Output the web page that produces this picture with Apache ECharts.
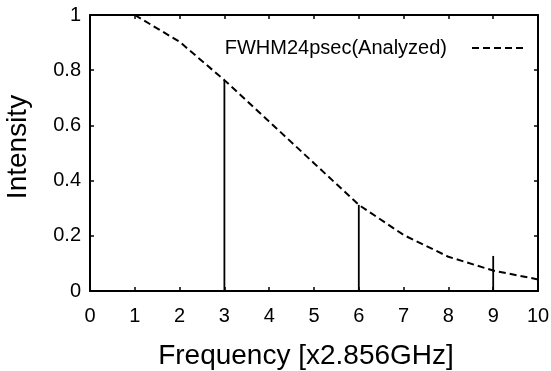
<!DOCTYPE html>
<html>
<head>
<meta charset="utf-8">
<script src="https://cdn.jsdelivr.net/npm/echarts@6/dist/echarts.min.js"></script>
<style>
html,body{margin:0;padding:0;background:#fff;}
#c{width:551px;height:371px;}
</style>
</head>
<body>
<div id="c"></div>
<script>
var seriesName = 'FWHM24psec(Analyzed)';
var freq = [1, 2, 3, 4, 5, 6, 7, 8, 9, 10];
var intensity = [1.0, 0.903, 0.764, 0.614, 0.463, 0.312, 0.203, 0.124, 0.074, 0.042];
var impulseX = [3, 6, 9];
var impulseY = [0.762, 0.312, 0.127];
var xTicks = [0,1,2,3,4,5,6,7,8,9,10];
var yTicks = [0, 0.2, 0.4, 0.6, 0.8, 1];

var FONT = '"Liberation Sans", Arial, Helvetica, sans-serif';
var chart = echarts.init(document.getElementById('c'), null, {renderer: 'canvas'});

var lineData = freq.map(function (f, i) { return [f, intensity[i]]; });
var impData = impulseX.map(function (f, i) { return [f, impulseY[i]]; });

var axisLineStyle = {color: '#000', width: 2};
var tickStyle = {color: '#000', width: 1.5};

chart.setOption({
  animation: false,
  backgroundColor: '#fff',
  textStyle: {fontFamily: FONT, color: '#000'},
  grid: {left: 90, right: 13, top: 15, bottom: 80, containLabel: false, outerBoundsMode: 'none'},
  legend: {
    data: [{name: seriesName}],
    right: 18,
    top: 33,
    align: 'right',
    itemWidth: 55,
    itemHeight: 16,
    itemGap: 0,
    selectedMode: false,
    itemStyle: {opacity: 0},
    textStyle: {fontFamily: FONT, fontSize: 20, color: '#000', padding: [0, 20, 0, 0]}
  },
  xAxis: [{
    type: 'value',
    min: 0, max: 10, interval: 1,
    name: 'Frequency [x2.856GHz]',
    nameLocation: 'middle',
    nameGap: 51,
    nameTextStyle: {fontFamily: FONT, fontSize: 28, color: '#000', padding: [0, 16, 0, 0]},
    axisLine: {show: true, onZero: false, lineStyle: axisLineStyle},
    axisTick: {show: true, inside: true, length: 4, lineStyle: tickStyle},
    axisLabel: {
      fontFamily: FONT, fontSize: 20, color: '#000', margin: 15,
      formatter: function (v) { return xTicks.indexOf(v) >= 0 ? String(v) : ''; }
    },
    splitLine: {show: false}
  }, {
    type: 'value', position: 'top',
    min: 0, max: 10, interval: 1,
    axisLine: {show: true, onZero: false, lineStyle: axisLineStyle},
    axisTick: {show: true, inside: true, length: 4, lineStyle: tickStyle},
    axisLabel: {show: false},
    splitLine: {show: false}
  }],
  yAxis: [{
    type: 'value',
    min: 0, max: 1, interval: 0.2,
    name: 'Intensity',
    nameLocation: 'middle',
    nameGap: 58,
    nameTextStyle: {fontFamily: FONT, fontSize: 28, color: '#000', padding: [0, 0, 0, 12]},
    axisLine: {show: true, onZero: false, lineStyle: axisLineStyle},
    axisTick: {show: true, inside: true, length: 4, lineStyle: tickStyle},
    axisLabel: {
      fontFamily: FONT, fontSize: 20, color: '#000', margin: 9,
      formatter: function (v) {
        for (var i = 0; i < yTicks.length; i++) {
          if (Math.abs(yTicks[i] - v) < 1e-9) return String(yTicks[i]);
        }
        return '';
      }
    },
    splitLine: {show: false}
  }, {
    type: 'value', position: 'right',
    min: 0, max: 1, interval: 0.2,
    axisLine: {show: true, onZero: false, lineStyle: axisLineStyle},
    axisTick: {show: true, inside: true, length: 4, lineStyle: tickStyle},
    axisLabel: {show: false},
    splitLine: {show: false}
  }],
  series: [{
    name: seriesName,
    type: 'line',
    xAxisIndex: 0, yAxisIndex: 0,
    data: lineData,
    symbol: 'none',
    smooth: false,
    lineStyle: {color: '#000', width: 2, type: [7, 4]},
    itemStyle: {color: '#000'},
    z: 3
  }, {
    name: 'impulses',
    type: 'custom',
    xAxisIndex: 0, yAxisIndex: 0,
    data: impData,
    renderItem: function (params, api) {
      var top = api.coord([api.value(0), api.value(1)]);
      var bot = api.coord([api.value(0), 0]);
      return {
        type: 'line',
        shape: {x1: top[0], y1: top[1], x2: bot[0], y2: bot[1]},
        style: {stroke: '#000', lineWidth: 1.8}
      };
    },
    z: 2
  }]
});
</script>
</body>
</html>
